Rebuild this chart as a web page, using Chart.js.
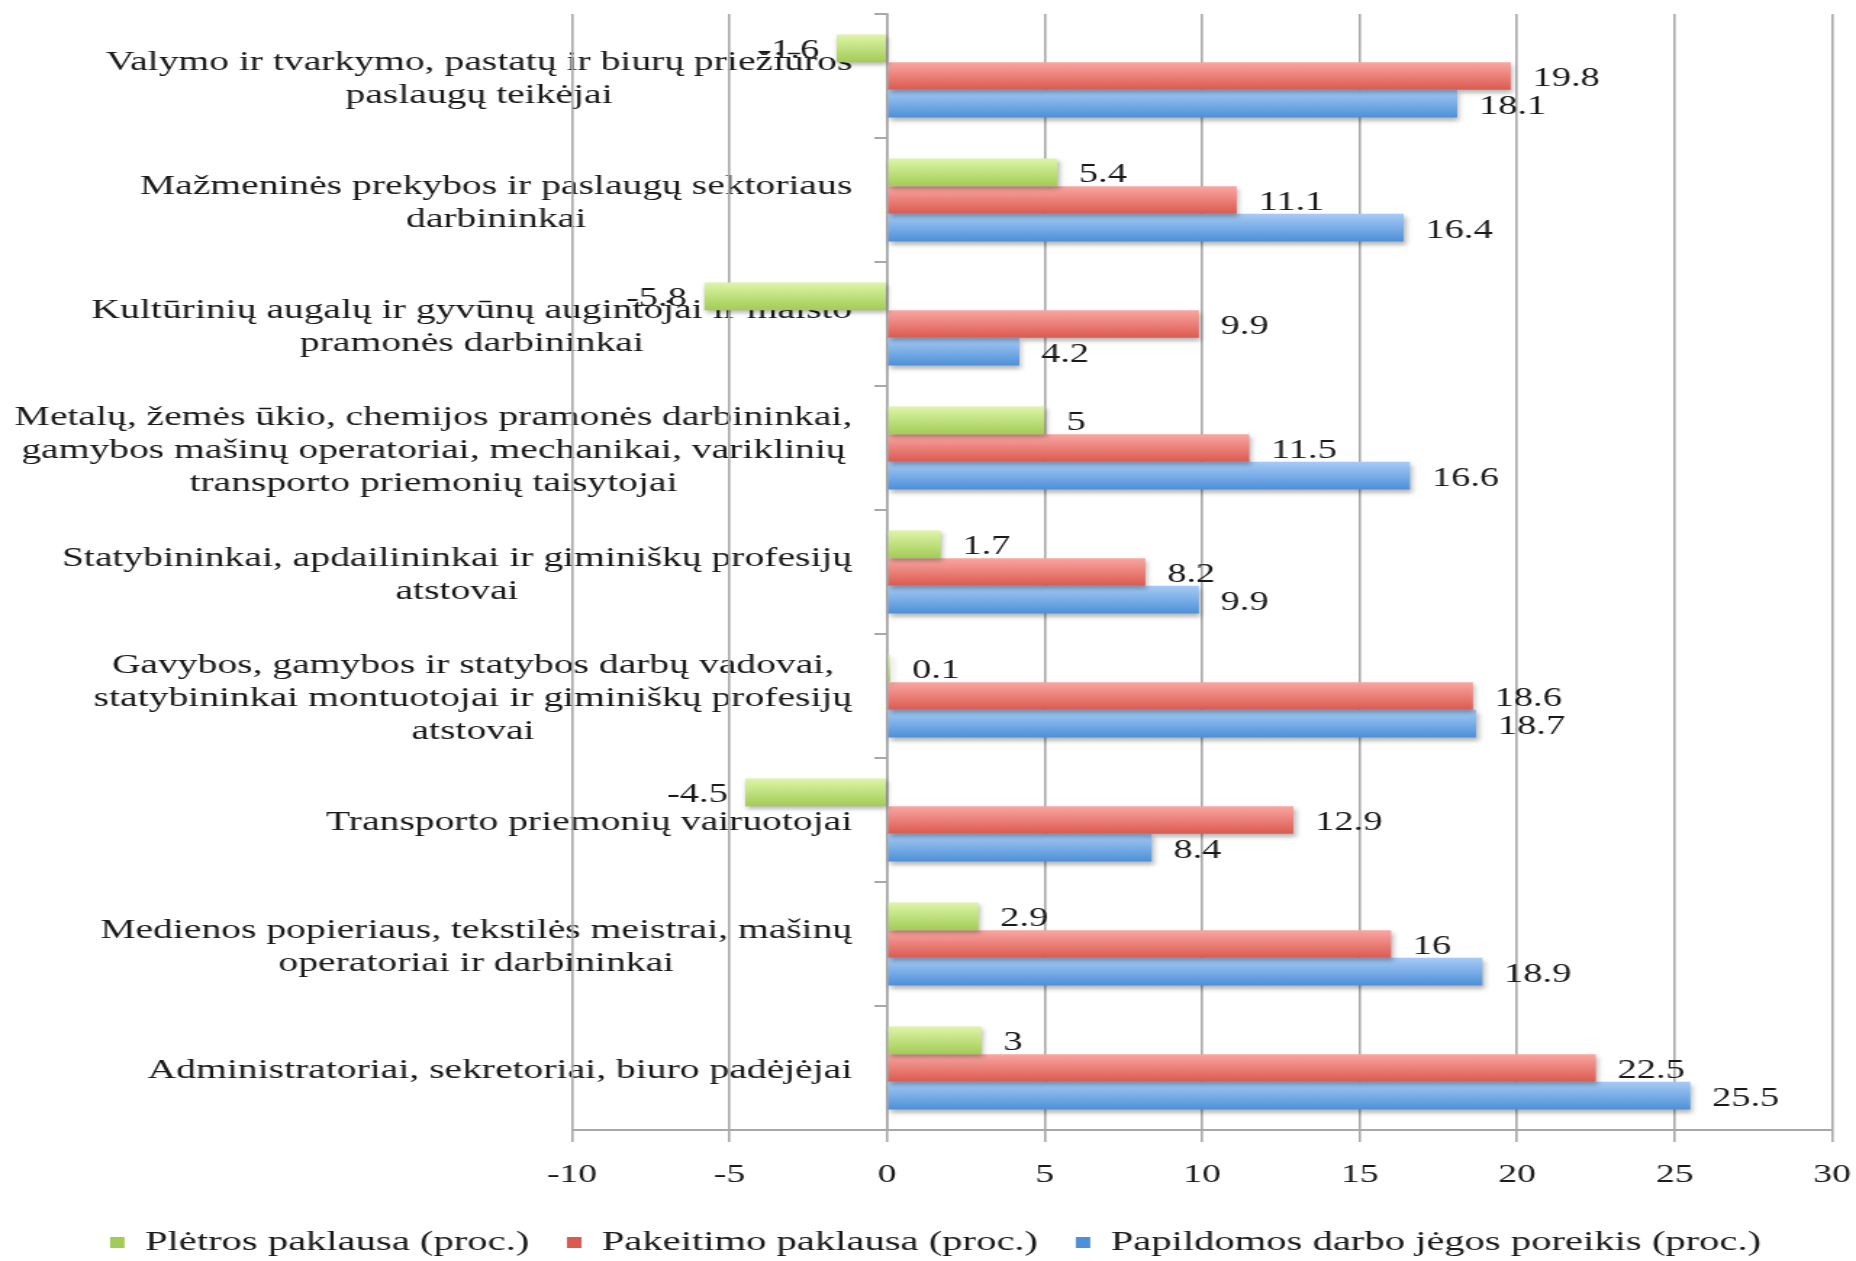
<!DOCTYPE html>
<html lang="lt">
<head>
<meta charset="utf-8">
<title>Darbo jėgos poreikis</title>
<script src="https://cdn.jsdelivr.net/npm/chart.js"></script>
<style>
  html, body { margin: 0; padding: 0; background: #fff; overflow: hidden; }
  /* the source picture is stretched sideways, so is this one */
  #wrap { width: 1280px; height: 1261px; transform: scaleX(1.45); transform-origin: 0 0; }
</style>
</head>
<body>
<div id="wrap"><canvas id="chart"></canvas></div>
<script>
// profesijų grupės, nuo viršaus žemyn
const categories = [
  ['Valymo ir tvarkymo, pastatų ir biurų priežiūros', 'paslaugų teikėjai'],
  ['Mažmeninės prekybos ir paslaugų sektoriaus', 'darbininkai'],
  ['Kultūrinių augalų ir gyvūnų augintojai ir maisto', 'pramonės darbininkai'],
  ['Metalų, žemės ūkio, chemijos pramonės darbininkai,', 'gamybos mašinų operatoriai, mechanikai, variklinių', 'transporto priemonių taisytojai'],
  ['Statybininkai, apdailininkai ir giminiškų profesijų', 'atstovai'],
  ['Gavybos, gamybos ir statybos darbų vadovai,', 'statybininkai montuotojai ir giminiškų profesijų', 'atstovai'],
  ['Transporto priemonių vairuotojai'],
  ['Medienos popieriaus, tekstilės meistrai, mašinų', 'operatoriai ir darbininkai'],
  ['Administratoriai, sekretoriai, biuro padėjėjai']
];

const seriesNames = ['Plėtros paklausa (proc.)', 'Pakeitimo paklausa (proc.)', 'Papildomos darbo jėgos poreikis (proc.)'];
const pletra     = [-1.6, 5.4, -5.8, 5, 1.7, 0.1, -4.5, 2.9, 3];
const pakeitimas = [19.8, 11.1, 9.9, 11.5, 8.2, 18.6, 12.9, 16, 22.5];
const papildomas = [18.1, 16.4, 4.2, 16.6, 9.9, 18.7, 8.4, 18.9, 25.5];

const xMin = -10, xMax = 30, xStep = 5;

const CAT_PCT = 0.67;
const GRID = '#a8a8a8';
const INK = '#1a1a1a';
const SERIF = '"Liberation Serif", "Times New Roman", serif';

// vertical gradient per bar, from the y scale position
function barFill(top, bottom, mid) {
  return function (ctx) {
    const y = ctx.chart.scales.y;
    if (ctx.type !== 'data' || !y) return mid;
    const band = (y.bottom - y.top) / categories.length;
    const thick = band * CAT_PCT / 3;
    const y0 = y.getPixelForValue(ctx.dataIndex) - 1.5 * thick + ctx.datasetIndex * thick;
    if (!isFinite(y0) || !isFinite(thick) || thick <= 0) return mid;
    const g = ctx.chart.ctx.createLinearGradient(0, y0, 0, y0 + thick);
    g.addColorStop(0, top);
    g.addColorStop(1, bottom);
    return g;
  };
}

const barDecor = {
  id: 'barDecor',
  beforeDraw(chart) {
    // category labels: lines centred on each other, widest line ends near the zero axis
    const c = chart.ctx, y = chart.scales.y;
    const rightEdge = chart.scales.x.getPixelForValue(0) - 24;
    c.save();
    c.font = '27.3px ' + SERIF;
    c.fillStyle = INK;
    c.textAlign = 'center';
    c.textBaseline = 'middle';
    const lh = 33;
    categories.forEach((lines, i) => {
      const w = Math.max(...lines.map(l => c.measureText(l).width));
      const cx = rightEdge - w / 2;
      const cy = y.getPixelForValue(i);
      lines.forEach((l, k) => {
        c.fillText(l, cx, cy + (k - (lines.length - 1) / 2) * lh + 3);
      });
    });
    c.restore();
  },
  beforeDatasetsDraw(chart) {
    const c = chart.ctx;
    c.save();
    c.shadowColor = 'rgba(0,0,0,0.28)';
    c.shadowBlur = 4;
    c.shadowOffsetX = 1.5;
    c.shadowOffsetY = 3;
  },
  afterDatasetsDraw(chart) {
    const c = chart.ctx;
    c.restore();
    c.save();
    c.font = '26.5px ' + SERIF;
    c.fillStyle = INK;
    c.textBaseline = 'middle';
    chart.data.datasets.forEach((ds, di) => {
      chart.getDatasetMeta(di).data.forEach((bar, i) => {
        const v = ds.data[i];
        if (v < 0) {
          c.textAlign = 'right';
          c.fillText(String(v), bar.x - 12, bar.y + 3);
        } else {
          c.textAlign = 'left';
          c.fillText(String(v), bar.x + 15, bar.y + 3);
        }
      });
    });
    c.restore();
  }
};

new Chart(document.getElementById('chart'), {
  type: 'bar',
  data: {
    labels: categories,
    datasets: [
      { label: seriesNames[0], data: pletra, yAxisID: 'y',
        backgroundColor: barFill('#def5a9', '#a2cc55', '#b5d96a') },
      { label: seriesNames[1], data: pakeitimas, yAxisID: 'y',
        backgroundColor: barFill('#f9a7a2', '#db5a50', '#e8716b') },
      { label: seriesNames[2], data: papildomas, yAxisID: 'y',
        backgroundColor: barFill('#a7cbf5', '#4d90d8', '#6fa6e6') }
    ]
  },
  options: {
    indexAxis: 'y',
    responsive: true,
    maintainAspectRatio: false,
    animation: false,
    categoryPercentage: CAT_PCT,
    barPercentage: 1.0,
    layout: { padding: { left: 27, right: 16.5, top: 14, bottom: 0 } },
    scales: {
      x: {
        min: xMin, max: xMax,
        ticks: { stepSize: xStep, color: INK, padding: 18, font: { family: SERIF, size: 26 } },
        grid: { color: GRID, lineWidth: 1.6, tickLength: 12 },
        border: { color: GRID, width: 2 },
        afterFit(axis) {
          axis.height = 72.5;
          axis.paddingLeft = 0;
          axis.paddingRight = 0;
        }
      },
      y: {
        position: { x: 0 },
        ticks: { display: false },
        grid: { drawOnChartArea: false, offset: true, color: GRID, lineWidth: 2, tickLength: 8 },
        border: { color: GRID, width: 1.6 },
        afterFit(axis) { axis.width = 0; }
      },
      // empty room on the left where the category names sit
      pad: {
        type: 'linear',
        position: 'left',
        grid: { display: false },
        border: { display: false },
        ticks: { display: false },
        afterFit(axis) { axis.width = 367.5; }
      }
    },
    plugins: {
      legend: {
        position: 'bottom',
        maxHeight: 58.5,
        labels: {
          boxWidth: 10, boxHeight: 11, padding: 26,
          color: INK,
          font: { family: SERIF, size: 28 }
        }
      },
      tooltip: { enabled: false }
    }
  },
  plugins: [barDecor]
});
</script>
</body>
</html>
